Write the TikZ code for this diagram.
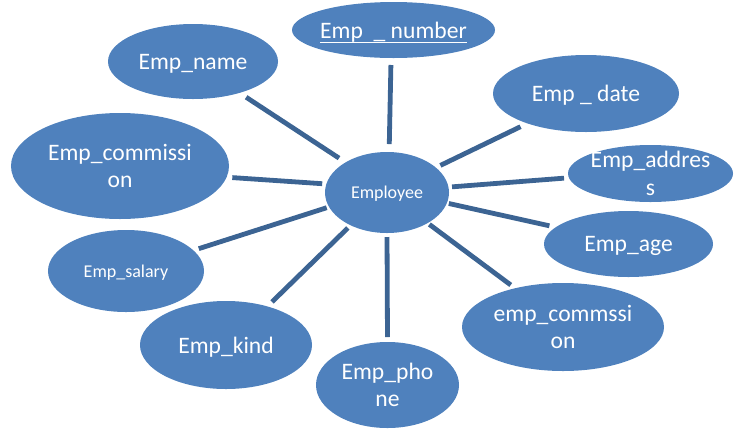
\documentclass[tikz,border=0pt]{standalone}
\usepackage{fontspec}
\setmainfont{Carlito}
\usetikzlibrary{shapes.geometric}

\definecolor{attrfill}{HTML}{4F81BD}
\definecolor{linkline}{HTML}{3C6493}

% underline drawn as a rule a little below the baseline
\newcommand{\keyline}[1]{\setbox0\hbox{#1}\makebox[0pt][l]{\rule[-5bp]{\wd0}{1.4bp}}\box0}

\tikzset{
  attr/.style={ellipse, fill=attrfill, draw=none, inner sep=0pt, outer sep=0pt},
  bigtext/.style={text=white, inner sep=0pt, align=center, text depth=0pt,
    font=\fontsize{23.6bp}{27.5bp}\selectfont},
  smalltext/.style={text=white, inner sep=0pt, align=center, text depth=0pt,
    font=\fontsize{18bp}{22bp}\selectfont},
  link/.style={draw=linkline, line width=4.8bp}
}

\begin{document}
\begin{tikzpicture}[x=1bp, y=-1bp]
  \useasboundingbox (0,0) rectangle (734,430);

  % entity and attribute ellipses
  \node[attr, minimum width=124bp, minimum height=81bp] (emp)   at (387,192.5) {};
  \node[attr, minimum width=203bp, minimum height=56bp] (num)   at (393.5,30) {};
  \node[attr, minimum width=170bp, minimum height=75bp] (name)  at (193,61.5) {};
  \node[attr, minimum width=186bp, minimum height=77bp] (date)  at (586,93.5) {};
  \node[attr, minimum width=218bp, minimum height=106bp] (comm) at (120,166) {};
  \node[attr, minimum width=165bp, minimum height=57bp] (addr)  at (650.5,173.5) {};
  \node[attr, minimum width=169bp, minimum height=66bp] (age)   at (628.5,244) {};
  \node[attr, minimum width=156bp, minimum height=82bp] (sal)   at (126,271) {};
  \node[attr, minimum width=202bp, minimum height=88bp] (ec)    at (563,327) {};
  \node[attr, minimum width=172bp, minimum height=88bp] (kind)  at (226,345) {};
  \node[attr, minimum width=143bp, minimum height=86bp] (phone) at (387.5,385) {};

  % labels
  \node[smalltext] (empT)   at (emp)   {Employee};
  \node[bigtext]   (numT)   at (num)   {\keyline{Emp\ \ \_\ number}};
  \node[bigtext]   (nameT)  at (name)  {Emp\_name};
  \node[bigtext]   (dateT)  at (date)  {Emp \_ date};
  \node[bigtext]   (commT)  at (comm)  {Emp\_commissi\\on};
  \node[bigtext]   (addrT)  at (addr)  {Emp\_addres\\s};
  \node[bigtext]   (ageT)   at (age)   {Emp\_age};
  \node[smalltext] (salT)   at (sal)   {Emp\_salary};
  \node[bigtext]   (ecT)    at (ec)    {emp\_commssi\\on};
  \node[bigtext]   (kindT)  at (kind)  {Emp\_kind};
  \node[bigtext]   (phoneT) at (phone) {Emp\_pho\\ne};

  % links from the entity to its attributes
  \draw[link, shorten <=8bp,   shorten >=7bp]   (emp.87.6)  -- (num.265.9);
  \draw[link, shorten <=7.8bp, shorten >=7.9bp] (emp.144.3) -- (name.326.7);
  \draw[link, shorten <=5bp,   shorten >=7.6bp] (emp.27.4)  -- (date.207.3);
  \draw[link, shorten <=4.2bp, shorten >=5.8bp] (emp.172.5) -- (comm.354.9);
  \draw[link, shorten <=3.6bp, shorten >=4.9bp] (emp.5.7)   -- (addr.183);
  \draw[link, shorten <=2bp,   shorten >=6.5bp] (emp.350.4) -- (age.167.2);
  \draw[link, shorten <=2.5bp, shorten >=5.6bp] (emp.194.5) -- (sal.17.7);
  \draw[link, shorten <=2.2bp, shorten >=5.5bp] (emp.323.8) -- (ec.141.6);
  \draw[link, shorten <=3.8bp, shorten >=6.5bp] (emp.222.3) -- (kind.43.1);
  \draw[link, shorten <=4bp,   shorten >=5bp]   (emp.270)   -- (phone.90);
\end{tikzpicture}
\end{document}
